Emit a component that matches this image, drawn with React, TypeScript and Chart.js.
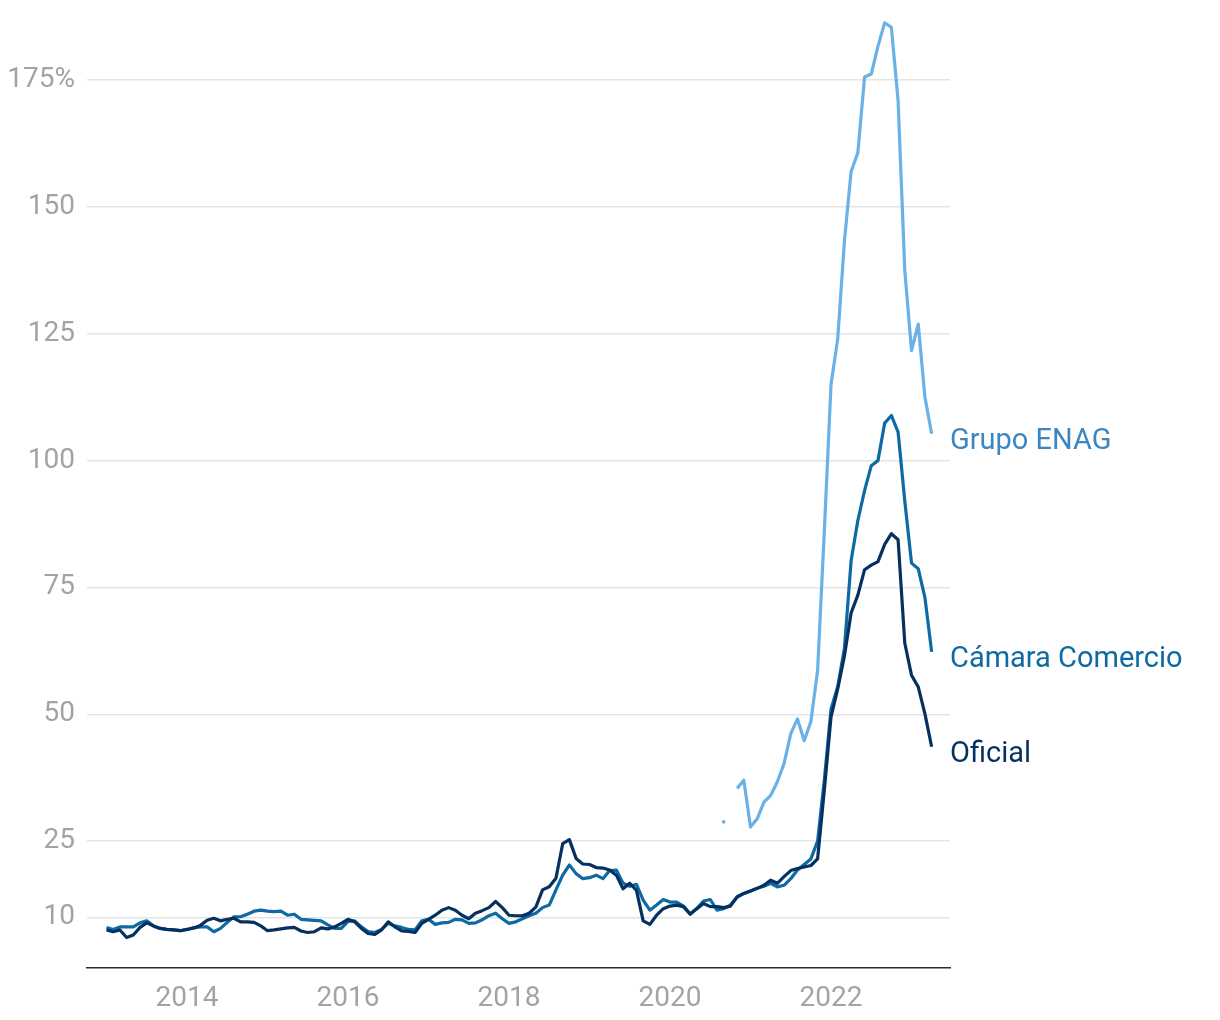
import React, { useEffect, useRef } from "react";
import { Chart, registerables } from "chart.js";

Chart.register(...registerables);

// Monthly series, first value = January 2013
const START_YEAR = 2013;

const oficial: number[] = [
  7.5, 7.15, 7.5, 6.0, 6.5, 8.0, 8.9, 8.3, 7.8, 7.6, 7.5, 7.35,
  7.6, 7.9, 8.4, 9.4, 9.8, 9.3, 9.6, 9.8, 9.1, 9.1, 9.0, 8.3,
  7.35, 7.5, 7.7, 7.9, 8.0, 7.3, 7.0, 7.15, 7.9, 7.7, 8.1, 8.8,
  9.6, 9.1, 7.8, 6.8, 6.6, 7.5, 9.1, 8.1, 7.3, 7.2, 7.0, 8.8,
  9.6, 10.4, 11.4, 11.9, 11.4, 10.4, 9.7, 10.8, 11.3, 11.9, 13.1, 11.9,
  10.4, 10.3, 10.3, 10.8, 12.0, 15.4, 16.0, 17.7, 24.5, 25.3, 21.6, 20.5,
  20.4, 19.8, 19.7, 19.3, 18.3, 15.6, 16.7, 15.3, 9.3, 8.6, 10.4, 11.7,
  12.2, 12.4, 12.1, 10.6, 11.7, 12.7, 12.1, 12.1, 11.9, 12.2, 14.0, 14.7,
  15.2, 15.7, 16.3, 17.3, 16.7, 18.0, 19.2, 19.6, 19.9, 20.2, 21.5, 35.0,
  49.5, 55.0, 61.5, 70.0, 73.5, 78.5, 79.4, 80.1, 83.5, 85.6, 84.4, 64.0,
  57.7, 55.4, 50.1, 43.6,
];

const camara: number[] = [
  8.0, 7.6, 8.1, 8.1, 8.1, 8.9, 9.3, 8.3, 7.8, 7.6, 7.5, 7.35,
  7.6, 7.9, 8.1, 8.1, 7.15, 7.8, 9.0, 10.1, 10.1, 10.6, 11.2, 11.4,
  11.2, 11.1, 11.2, 10.4, 10.6, 9.6, 9.5, 9.4, 9.3, 8.5, 7.8, 7.8,
  9.2, 9.3, 8.1, 7.2, 7.0, 7.6, 8.8, 8.3, 8.0, 7.6, 7.5, 9.3,
  9.6, 8.6, 8.9, 9.0, 9.6, 9.5, 8.8, 8.9, 9.5, 10.3, 10.8, 9.7,
  8.8, 9.1, 9.7, 10.3, 10.8, 11.9, 12.4, 15.4, 18.3, 20.3, 18.6, 17.6,
  17.8, 18.3, 17.6, 19.2, 19.3, 16.7, 16.1, 16.5, 13.4, 11.4, 12.4, 13.5,
  13.0, 13.0, 12.2, 10.7, 11.7, 13.2, 13.5, 11.4, 11.7, 12.4, 14.0, 14.7,
  15.2, 15.7, 16.1, 16.7, 16.0, 16.3, 17.6, 19.3, 20.4, 21.5, 25.0, 37.0,
  51.0, 55.5, 63.0, 80.3, 88.2, 94.1, 99.0, 100.0, 107.4, 108.9, 105.6, 92.0,
  79.8, 78.7, 73.0, 62.3,
];

// Grupo ENAG starts in September 2020 (month index 92); null = missing month
const ENAG_START = 92;
const enag: (number | null)[] = [
  28.8, null, 35.4, 37.0, 27.8, 29.4, 32.7, 34.0, 36.7, 40.3, 46.2, 49.1,
  44.8, 48.6, 58.6, 86.0, 115.0, 124.0, 143.3, 157.0, 160.7, 175.6, 176.2, 181.7,
  186.3, 185.4, 170.9, 137.4, 121.7, 126.9, 112.5, 105.3,
];

const seriesNames = ["Oficial", "Cámara Comercio", "Grupo ENAG"];
const lineColors = ["#06305f", "#0d6aa3", "#6ab1e7"];
const labelColors = ["#06305f", "#0d6aa3", "#3c87c2"];

const yTicks = [10, 25, 50, 75, 100, 125, 150, 175];
const xTicks = [2014, 2016, 2018, 2020, 2022];

const FONT = "Roboto, 'Noto Sans', sans-serif";

export default function App() {
  const ref = useRef<HTMLCanvasElement>(null);

  useEffect(() => {
    document.body.style.margin = "0";
    const toPts = (arr: (number | null)[], offset = 0) =>
      arr.map((v, i) => ({ x: START_YEAR + (i + offset) / 12, y: v }));

    const isolatedRadius = (c: any) => {
      const d = c.dataset.data;
      const i = c.dataIndex;
      if (d[i] == null || d[i].y == null) return 0;
      const prev = i > 0 ? d[i - 1].y : null;
      const next = i < d.length - 1 ? d[i + 1].y : null;
      return prev == null && next == null ? 1.8 : 0;
    };

    const endLabels = {
      id: "endLabels",
      afterDatasetsDraw(chart: any) {
        const ctx = chart.ctx;
        const ys = chart.scales.y;
        chart.data.datasets.forEach((ds: any) => {
          const d = ds.data;
          const last = d[d.length - 1];
          const y = ys.getPixelForValue(last.y) + 8;
          ctx.save();
          ctx.font = `400 29px ${FONT}`;
          ctx.fillStyle = ds.labelColor;
          ctx.textAlign = "left";
          ctx.textBaseline = "middle";
          ctx.fillText(ds.label, chart.chartArea.right, y);
          ctx.restore();
        });
      },
    };

    const seriesData = [toPts(oficial), toPts(camara), toPts(enag, ENAG_START)];

    const chart = new Chart(ref.current as HTMLCanvasElement, {
      type: "line",
      data: {
        datasets: seriesData.map((data, k) => ({
          label: seriesNames[k],
          data,
          borderColor: lineColors[k],
          backgroundColor: lineColors[k],
          labelColor: labelColors[k],
          borderWidth: 3.2,
          tension: 0,
          spanGaps: false,
          borderJoinStyle: "round",
          pointRadius: isolatedRadius,
          pointBorderWidth: 0,
          pointHoverRadius: 0,
        })) as any,
      },
      options: {
        responsive: false,
        animation: false,
        events: [],
        layout: { padding: { top: 4, right: 270, left: 0, bottom: 0 } },
        plugins: { legend: { display: false }, tooltip: { enabled: false } },
        scales: {
          x: {
            type: "linear",
            min: 2012.758,
            max: 2023.478,
            grid: { display: false, drawTicks: false },
            border: { display: true, color: "#2b2b2b", width: 1.5 },
            afterBuildTicks: (s: any) => {
              s.ticks = xTicks.map((v) => ({ value: v }));
            },
            afterFit: (s: any) => {
              s.height = 52;
              s.paddingLeft = 0;
              s.paddingRight = 0;
            },
            ticks: {
              color: "#a3a3a3",
              font: { family: FONT, size: 28, weight: 400 as any },
              padding: 14,
              maxRotation: 0,
              autoSkip: false,
              callback: (v: any) => String(v),
            },
          },
          y: {
            type: "linear",
            min: 0,
            max: 190,
            grid: { color: "#e4e4e4", lineWidth: 1.5, drawTicks: false },
            border: { display: false },
            afterBuildTicks: (s: any) => {
              s.ticks = yTicks.map((v) => ({ value: v }));
            },
            afterFit: (s: any) => {
              s.width = 87;
              s.paddingTop = 0;
              s.paddingBottom = 0;
            },
            ticks: {
              color: "#a3a3a3",
              font: { family: FONT, size: 28, weight: 400 as any },
              padding: 12,
              callback: (v: any) =>
                v === yTicks[yTicks.length - 1] ? `${v}%` : String(v),
            },
          },
        },
      },
      plugins: [endLabels],
    } as any);

    return () => chart.destroy();
  }, []);

  return (
    <div style={{ width: 1220, height: 1020, background: "#fff" }}>
      <canvas ref={ref} width={1220} height={1020} style={{ display: "block" }} />
    </div>
  );
}
